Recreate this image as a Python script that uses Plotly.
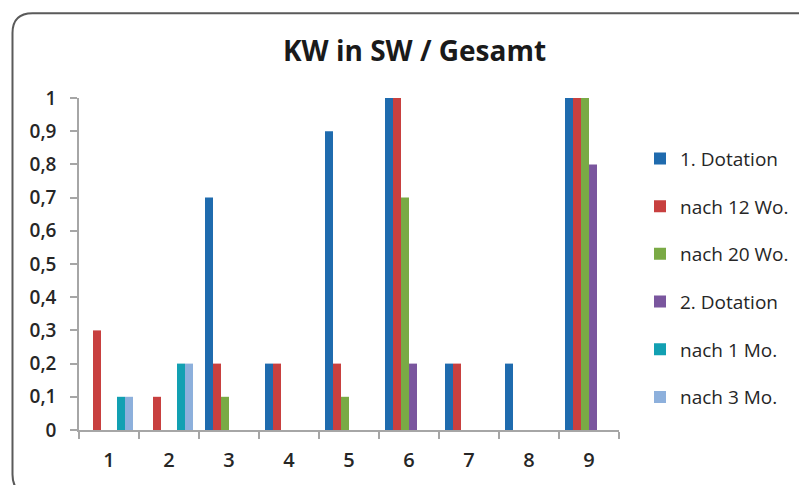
import plotly.graph_objects as go

categories = ["1", "2", "3", "4", "5", "6", "7", "8", "9"]
series_names = ["1. Dotation", "nach 12 Wo.", "nach 20 Wo.", "2. Dotation", "nach 1 Mo.", "nach 3 Mo."]
dotation1 = [0, 0, 0.7, 0.2, 0.9, 1.0, 0.2, 0.2, 1.0]
nach12wo = [0.3, 0.1, 0.2, 0.2, 0.2, 1.0, 0.2, 0, 1.0]
nach20wo = [0, 0, 0.1, 0, 0.1, 0.7, 0, 0, 1.0]
dotation2 = [0, 0, 0, 0, 0, 0.2, 0, 0, 0.8]
nach1mo = [0.1, 0.2, 0, 0, 0, 0, 0, 0, 0]
nach3mo = [0.1, 0.2, 0, 0, 0, 0, 0, 0, 0]
series_values = [dotation1, nach12wo, nach20wo, dotation2, nach1mo, nach3mo]
colors = ["#1F6BAE", "#C8403F", "#7AAA45", "#7A569E", "#12A0B2", "#8DB0DC"]
ytick_vals = [0, 0.1, 0.2, 0.3, 0.4, 0.5, 0.6, 0.7, 0.8, 0.9, 1.0]
ytick_text = ["0", "0,1", "0,2", "0,3", "0,4", "0,5", "0,6", "0,7", "0,8", "0,9", "1"]

FONT = "Open Sans"
OFF = 8  # page body margin offset
W, H = 807 - OFF, 485 - OFF
# plot area in screenshot pixels
L, R, T, B = 79, 619, 98, 433
l, r, t, b = L - OFF, R - OFF, T - OFF, B - OFF

fig = go.Figure()
for i, (name, vals, col) in enumerate(zip(series_names, series_values, colors)):
    fig.add_trace(go.Bar(x=categories, y=vals, name=name, marker_color=col,
                         marker_line_width=0, legendgroup=f"g{i}"))

def px_to_paper(px, py):
    return (px - L) / (R - L), (B - py) / (B - T)

# rounded border (screenshot pixel coords)
x0, y0, x1, y1, rad = 12.5, 12.5, 822, 498, 20
def P(px, py):
    a, c = px_to_paper(px, py)
    return f"{a:.5f},{c:.5f}"
path = (f"M {P(x0, y0 + rad)} Q {P(x0, y0)} {P(x0 + rad, y0)} L {P(x1 - rad, y0)} "
        f"Q {P(x1, y0)} {P(x1, y0 + rad)} L {P(x1, y1 - rad)} Q {P(x1, y1)} {P(x1 - rad, y1)} "
        f"L {P(x0 + rad, y1)} Q {P(x0, y1)} {P(x0, y1 - rad)} Z")
fig.add_shape(type="path", path=path, xref="paper", yref="paper",
              line=dict(color="#5a5a5a", width=2), layer="above")

fig.update_layout(
    width=W, height=H,
    margin=dict(l=l, r=W - r, t=t, b=H - b, pad=0),
    paper_bgcolor="white", plot_bgcolor="white",
    barmode="group", bargap=0.2, bargroupgap=0,
    font=dict(family=FONT, color="#262626"),
    title=dict(text="<b>KW in SW / Gesamt</b>", x=(414.5 - OFF) / W, xanchor="center",
               y=1 - (51 - OFF) / H, yanchor="middle", xref="container", yref="container",
               font=dict(family=FONT, size=28, color="#1a1a1a")),
    showlegend=True,
    legend=dict(x=px_to_paper(640, 0)[0], xanchor="left", y=px_to_paper(0, 140)[1], yanchor="top",
                font=dict(family=FONT, size=19, color="#262626", weight=500),
                tracegroupgap=20, bgcolor="rgba(0,0,0,0)", borderwidth=0),
    xaxis=dict(type="category", showgrid=False, showline=True, linecolor="#A6A6A6", linewidth=1.5,
               ticks="outside", tickson="boundaries", ticklen=7, tickcolor="#A6A6A6", tickwidth=1.5,
               tickfont=dict(family=FONT, size=20, color="#262626", weight=600), ticklabelstandoff=11,
               range=[-0.5, 8.5], zeroline=False),
    yaxis=dict(range=[0, 1], showgrid=False, showline=True, linecolor="#A6A6A6", linewidth=1.5,
               ticks="outside", ticklen=7, tickcolor="#A6A6A6", tickwidth=1.5,
               tickvals=ytick_vals, ticktext=ytick_text,
               tickfont=dict(family=FONT, size=19, color="#262626", weight=600), ticklabelstandoff=10,
               zeroline=False),
)

fig.write_html("out.html")
